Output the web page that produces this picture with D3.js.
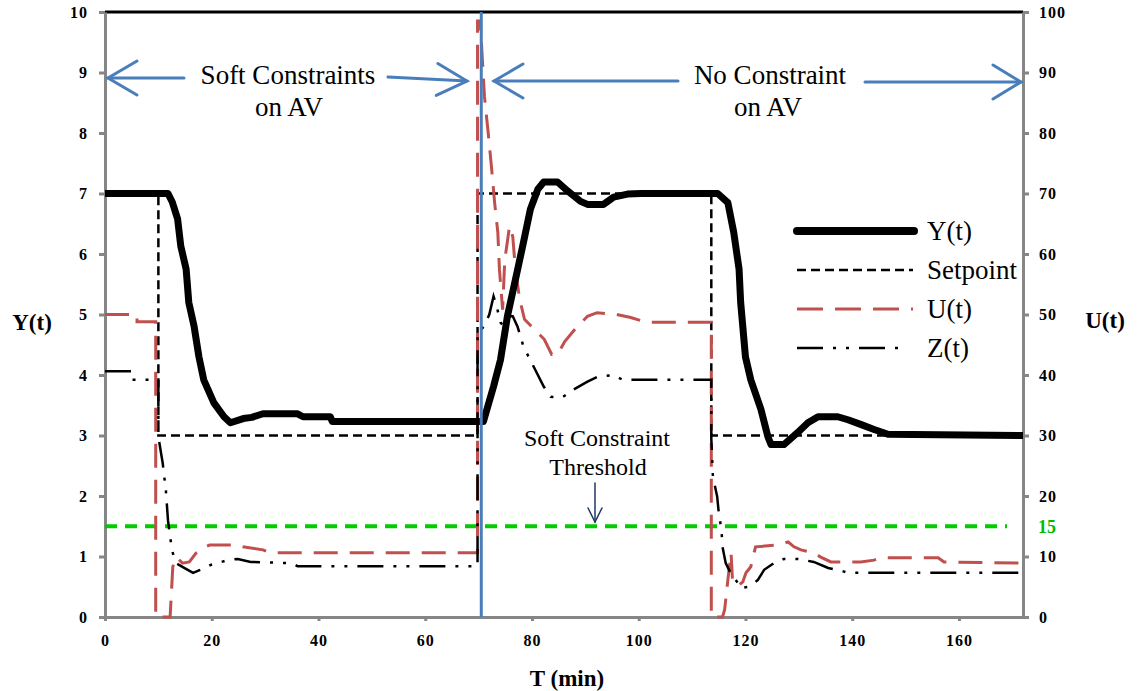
<!DOCTYPE html>
<html>
<head>
<meta charset="utf-8">
<script src="https://cdn.jsdelivr.net/npm/d3@7"></script>
<style>
  body { margin: 0; background: #fff; }
  text { font-family: "Liberation Serif", "Times New Roman", serif; }
</style>
</head>
<body>
<script>
/********************************************************/
// Data (T in minutes)
const yTime = [0, 11.8, 12.6, 13.6, 14.2, 15.2, 15.7, 16.7, 17.6, 18.5, 20.4, 22.3, 23.5, 25.9, 27.5, 29.6, 36, 37.1, 42.2, 42.6,
  70.9, 72.8, 74.1, 75.4, 77.3, 78.4, 79.7, 81.1, 82.2, 84.8, 86.7, 89.1, 90.4, 93.4, 95.3, 97.9, 100.4, 114.8, 116.7, 117.8,
  118.8, 119.1, 120, 121, 122.9, 124.2, 124.8, 127.2, 129.8, 131.7, 133.6, 137.3, 139.2, 141.7, 144.1, 146.7, 172];
const yValues = [7, 7, 6.86, 6.58, 6.13, 5.75, 5.2, 4.8, 4.3, 3.92, 3.54, 3.31, 3.21, 3.28, 3.3, 3.36, 3.36, 3.31, 3.31, 3.23,
  3.23, 3.81, 4.25, 4.97, 5.74, 6.19, 6.74, 7.07, 7.19, 7.19, 7.04, 6.87, 6.82, 6.82, 6.94, 6.99, 7, 7, 6.85, 6.36,
  5.75, 5.2, 4.3, 3.92, 3.43, 2.98, 2.85, 2.85, 3.05, 3.21, 3.31, 3.31, 3.26, 3.18, 3.1, 3.02, 3];

const spTime = [0, 10, 10, 69.8, 69.8, 113.6, 113.6, 172];
const spValues = [7, 7, 3, 3, 7, 7, 3, 3];

const uTime = [0, 6, 6, 9.5, 9.5, 12.2, 12.4, 12.7, 13.4, 14.5, 15.8, 17.1, 18.3, 19.6, 24.7, 25.8, 29.6, 30.9, 69.8,
  69.8, 70.3, 71.1, 71.8, 72.4, 73, 73.6, 73.9, 74.3, 74.5, 74.9, 75.8, 76.4, 76.9, 77.7, 78.6, 80.5, 82.3, 83.7, 84.8,
  86.1, 88, 90.4, 92.2, 95.9, 98.5, 101.5, 113.6, 113.6, 115.7, 116.1, 116.7, 117.3, 117.6, 118.8, 119.5, 120.1, 121,
  121.4, 121.9, 126.1, 128, 129.1, 130.4, 132.8, 134.1, 136, 141.6, 144.1, 145.4, 156.1, 157.2, 172];
const uValues = [50, 50, 48.8, 48.8, 0, 0, 3.3, 8.3, 9.9, 8.9, 9.1, 10.6, 11.4, 11.9, 11.9, 11.6, 11.1, 10.6, 10.6,
  98.5, 98.5, 86, 80, 74.5, 68.5, 63.6, 57.5, 53, 50.8, 59, 64.6, 62.9, 57.4, 52.5, 49.2, 47.5, 45.9, 43.4, 43.4,
  45.5, 47.5, 49.7, 50.3, 50, 49.5, 48.7, 48.7, 0, 0, 1.2, 6.1, 10.6, 5.6, 5.3, 5.8, 7.3, 8.3,
  9.9, 11.6, 11.9, 12.4, 11.6, 11.1, 10.6, 9.9, 9.1, 9.1, 9.4, 9.8, 9.8, 9.1, 8.9];

const zTime = [0, 5, 5, 10, 10, 10.8, 11.4, 11.8, 12.2, 12.7, 13.3, 15.5, 16.5, 17.9, 19.8, 23, 24.9, 27.3, 34.8, 36.1, 69.8,
  69.8, 71, 72, 72.8, 73.4, 74.1, 74.7, 75.4, 76.4, 77.3, 78.4, 80.3, 82.2, 83.5, 85.7, 87.8, 90.4, 92.3, 95.3, 97, 113.6,
  113.6, 113.9, 114.7, 115, 115.5, 115.7, 116.3, 117.2, 118.6, 119.1, 120.6, 122.3, 123.5, 125.3, 127.2, 129.8, 132.8,
  135.5, 138.5, 139.2, 172];
const zValues = [4.06, 4.06, 3.92, 3.92, 2.98, 2.55, 2.1, 1.6, 1.32, 1.06, 0.89, 0.78, 0.73, 0.78, 0.86, 0.94, 0.96, 0.91, 0.89, 0.84, 0.84,
  4.7, 4.8, 5.0, 5.3, 5.13, 4.87, 4.8, 4.97, 4.97, 4.8, 4.47, 4.14, 3.81, 3.64, 3.63, 3.76, 3.89, 3.97, 4.0, 3.92, 3.92,
  2.95, 2.32, 1.99, 1.72, 1.44, 1.16, 0.89, 0.73, 0.56, 0.48, 0.5, 0.61, 0.78, 0.89, 0.96, 0.96, 0.91,
  0.81, 0.75, 0.73, 0.73];

const thresholdTime = [0, 169];
const thresholdValues = [15, 15];
const switchTime = 70.5;

const xTicks = [0, 20, 40, 60, 80, 100, 120, 140, 160];
const yTicks = [0, 1, 2, 3, 4, 5, 6, 7, 8, 9, 10];
const uTicks = [0, 10, 20, 30, 40, 50, 60, 70, 80, 90, 100];
const legendNames = ["Y(t)", "Setpoint", "U(t)", "Z(t)"];
/********************************************************/
const svgWidth = 1137;
const svgHeight = 691;
const axisGray = "#868686";
const blue = "#4a7ebb";

const svg = d3.select("body").append("svg").attr("width", svgWidth).attr("height", svgHeight);

const x = d3.scaleLinear().domain([0, 172]).range([105, 1023]);
const yL = d3.scaleLinear().domain([0, 10]).range([617, 12]);
const yR = d3.scaleLinear().domain([0, 100]).range([617, 12]);

const lineL = d3.line().x((d) => x(d[0])).y((d) => yL(d[1]));
const lineR = d3.line().x((d) => x(d[0])).y((d) => yR(d[1]));

// top border of the plot
svg.append("line")
  .attr("x1", x(0)).attr("x2", x(172))
  .attr("y1", yL(10)).attr("y2", yL(10))
  .attr("stroke", "#000").attr("stroke-width", 3);

// axes
function styleAxis(g) {
  g.select(".domain").attr("stroke", axisGray).attr("stroke-width", 3);
  g.selectAll(".tick line").attr("stroke", axisGray).attr("stroke-width", 3);
  g.selectAll(".tick text")
    .attr("fill", "#000")
    .attr("font-family", "Liberation Serif")
    .attr("font-weight", "bold")
    .attr("font-size", 16)
    .attr("letter-spacing", 1);
}

svg.append("g")
  .attr("transform", `translate(${x(0)},0)`)
  .call(d3.axisLeft(yL).tickValues(yTicks).tickSize(6).tickSizeOuter(0).tickPadding(11))
  .call(styleAxis);

svg.append("g")
  .attr("transform", `translate(${x(172)},0)`)
  .call(d3.axisRight(yR).tickValues(uTicks).tickSize(6).tickSizeOuter(0).tickPadding(10))
  .call(styleAxis);

svg.append("g")
  .attr("transform", `translate(0,${yL(0)})`)
  .call(d3.axisBottom(x).tickValues(xTicks).tickSize(4).tickSizeOuter(0).tickPadding(14))
  .call(styleAxis);

// axis titles
svg.append("text").attr("x", 32).attr("y", 330).attr("text-anchor", "middle")
  .attr("font-weight", "bold").attr("font-size", 23).text("Y(t)");
svg.append("text").attr("x", 1105).attr("y", 328).attr("text-anchor", "middle")
  .attr("font-weight", "bold").attr("font-size", 23).text("U(t)");
svg.append("text").attr("x", 567).attr("y", 686).attr("text-anchor", "middle")
  .attr("font-weight", "bold").attr("font-size", 23).text("T (min)");

// soft constraint threshold
svg.append("path")
  .datum(d3.zip(thresholdTime, thresholdValues))
  .attr("d", lineR)
  .attr("fill", "none").attr("stroke", "#00cc00").attr("stroke-width", 4)
  .attr("stroke-dasharray", "12,8");
svg.append("text").attr("x", 1038).attr("y", yR(15) + 7)
  .attr("font-weight", "bold").attr("font-size", 18).attr("fill", "#00bb00").text("15");

// series
svg.append("path")
  .datum(d3.zip(spTime, spValues))
  .attr("d", lineL)
  .attr("fill", "none").attr("stroke", "#000").attr("stroke-width", 2.5)
  .attr("stroke-dasharray", "9,5");

svg.append("path")
  .datum(d3.zip(uTime, uValues))
  .attr("d", lineR)
  .attr("fill", "none").attr("stroke", "#c0504d").attr("stroke-width", 3)
  .attr("stroke-dasharray", "24,12");

svg.append("path")
  .datum(d3.zip(zTime, zValues))
  .attr("d", lineL)
  .attr("fill", "none").attr("stroke", "#000").attr("stroke-width", 2.5)
  .attr("stroke-dasharray", "26,10,3,10,3,10");

svg.append("path")
  .datum(d3.zip(yTime, yValues))
  .attr("d", lineL)
  .attr("fill", "none").attr("stroke", "#000").attr("stroke-width", 7)
  .attr("stroke-linejoin", "round");

// switch line
svg.append("line")
  .attr("x1", x(switchTime)).attr("x2", x(switchTime))
  .attr("y1", yL(10)).attr("y2", yL(0))
  .attr("stroke", blue).attr("stroke-width", 3);

// arrows
function arrow(x1, y1, x2, y2, color, width, headLen, headHalf) {
  const ang = Math.atan2(y2 - y1, x2 - x1);
  const bx = x2 - headLen * Math.cos(ang);
  const by = y2 - headLen * Math.sin(ang);
  const px = -Math.sin(ang) * headHalf;
  const py = Math.cos(ang) * headHalf;
  const g = svg.append("g").attr("stroke", color).attr("stroke-width", width).attr("fill", "none")
    .attr("stroke-linecap", "round");
  g.append("line").attr("x1", x1).attr("y1", y1).attr("x2", x2).attr("y2", y2);
  g.append("path").attr("d", `M${bx + px},${by + py}L${x2},${y2}L${bx - px},${by - py}`);
}
arrow(184, 78, 108, 78, blue, 3, 29, 17);
arrow(388, 77, 467, 81, blue, 3, 30, 16);
arrow(678, 81, 494, 81, blue, 3, 29, 17);
arrow(865, 82, 1021, 82, blue, 3, 28, 17);
arrow(595, 483, 595, 522, "#1f3864", 1.5, 14, 7);

// annotations
svg.append("text").attr("x", 288).attr("y", 84).attr("text-anchor", "middle").attr("font-size", 27).text("Soft Constraints");
svg.append("text").attr("x", 289).attr("y", 116).attr("text-anchor", "middle").attr("font-size", 27).text("on AV");
svg.append("text").attr("x", 770).attr("y", 84).attr("text-anchor", "middle").attr("font-size", 27).text("No Constraint");
svg.append("text").attr("x", 768).attr("y", 116).attr("text-anchor", "middle").attr("font-size", 27).text("on AV");
svg.append("text").attr("x", 597).attr("y", 446).attr("text-anchor", "middle").attr("font-size", 24).text("Soft Constraint");
svg.append("text").attr("x", 598).attr("y", 475).attr("text-anchor", "middle").attr("font-size", 24).text("Threshold");

// legend
const legendStyles = [
  { width: 8, dash: null, color: "#000", x2: 914 },
  { width: 2.5, dash: "9,5", color: "#000", x2: 913 },
  { width: 3, dash: "26,12", color: "#c0504d", x2: 913 },
  { width: 2.5, dash: "26,10,3,10,3,10", color: "#000", x2: 900 },
];
const legendY = [231, 270, 309, 348];
const legend = svg.append("g");
legendNames.forEach((name, i) => {
  const s = legendStyles[i];
  legend.append("line")
    .attr("x1", 797).attr("x2", s.x2)
    .attr("y1", legendY[i]).attr("y2", legendY[i])
    .attr("stroke", s.color).attr("stroke-width", s.width)
    .attr("stroke-linecap", i === 0 ? "round" : "butt")
    .attr("stroke-dasharray", s.dash);
  legend.append("text").attr("x", 927).attr("y", legendY[i] + 9)
    .attr("font-size", 27).text(name);
});
</script>
</body>
</html>
